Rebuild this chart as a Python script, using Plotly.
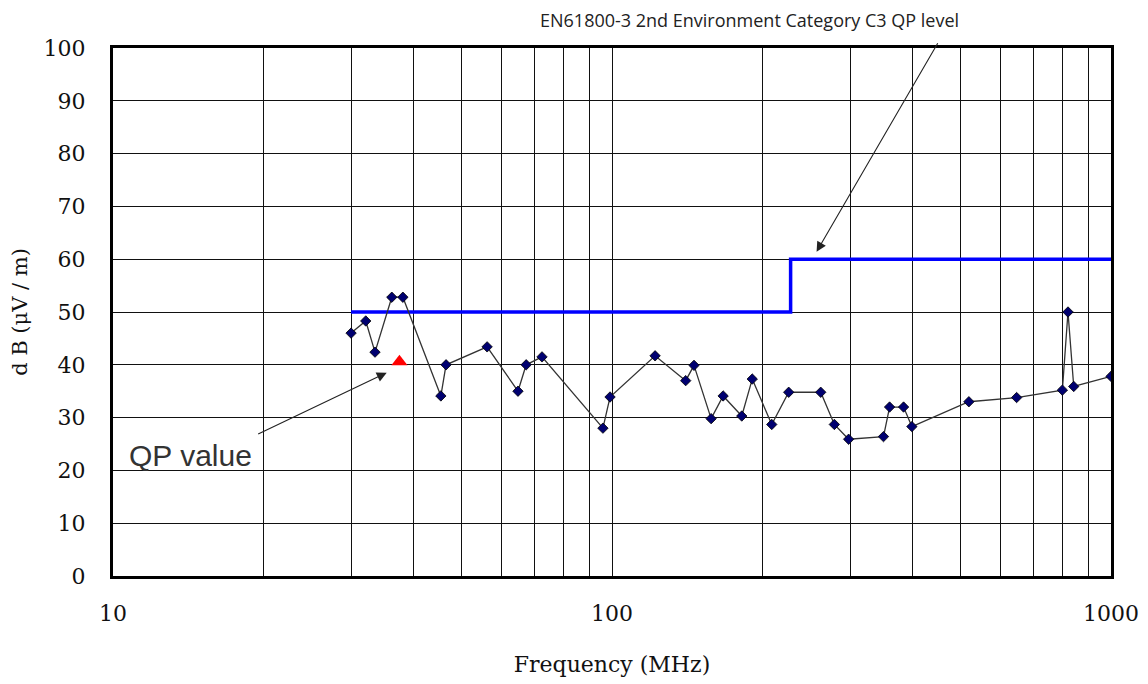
import plotly.graph_objects as go

# Measured emission data (MHz, dB(uV/m))
freq_mhz = [30, 32.1, 33.5, 36.2, 38.1, 45.4, 46.5, 56.2, 64.8, 67.3, 72.4,
            95.9, 99.1, 122, 140.5, 146, 158, 167, 182, 191, 209, 226, 262,
            279, 298, 350, 360, 384, 399, 519, 647, 799, 820, 842, 1000]
level_db = [46.0, 48.3, 42.4, 52.8, 52.8, 34.1, 40.0, 43.4, 35.0, 40.0, 41.5,
            28.0, 33.9, 41.7, 37.0, 39.9, 29.8, 34.1, 30.3, 37.3, 28.7, 34.8, 34.8,
            28.7, 25.9, 26.4, 32.0, 32.0, 28.3, 33.0, 33.8, 35.2, 50.0, 35.9, 37.8]

# Limit line (EN61800-3 C3 QP)
limit_freq = [30, 228, 228, 1000]
limit_db = [50, 50, 60, 60]

# QP value point
qp_freq = [37.5]
qp_db = [40.6]

x_tickvals = [10, 20, 30, 40, 50, 60, 70, 80, 90, 100, 200, 300, 400, 500,
              600, 700, 800, 900, 1000]
x_ticktext = ["10", "", "", "", "", "", "", "", "", "100", "", "", "", "",
              "", "", "", "", "1000"]
y_tickvals = [0, 10, 20, 30, 40, 50, 60, 70, 80, 90, 100]

fig = go.Figure()
fig.add_trace(go.Scatter(x=limit_freq, y=limit_db, mode="lines",
                         line=dict(color="#0000ff", width=3.5),
                         showlegend=False, hoverinfo="skip"))
fig.add_trace(go.Scatter(x=freq_mhz, y=level_db, mode="lines+markers",
                         line=dict(color="#333333", width=1.3),
                         marker=dict(symbol="diamond", size=8, color="#000070",
                                     line=dict(color="#000000", width=0.8)),
                         showlegend=False))
fig.add_trace(go.Scatter(x=qp_freq, y=qp_db, mode="markers",
                         marker=dict(symbol="triangle-up", size=14, color="#ff0000"),
                         showlegend=False))

serif = "DejaVu Serif"

# page has an 8px body margin; plot area spans page pixels x 113..1111, y 48..576
fig.update_layout(
    width=1140, height=676,
    margin=dict(l=105, r=37, t=40, b=108),
    plot_bgcolor="white", paper_bgcolor="white",
    xaxis=dict(type="log", range=[1, 3], tickmode="array",
               tickvals=x_tickvals, ticktext=x_ticktext, automargin=False,
               showgrid=True, gridcolor="#111111", gridwidth=1.2,
               showline=True, linecolor="black", linewidth=3, mirror=True,
               ticks="", ticklabelstandoff=16,
               tickfont=dict(family=serif, size=22, color="#111"),
               title=dict(text="Frequency (MHz)", standoff=32,
                          font=dict(family=serif, size=22, color="#111")),
               zeroline=False),
    yaxis=dict(range=[0, 100], tickmode="array", tickvals=y_tickvals,
               automargin=False,
               showgrid=True, gridcolor="#111111", gridwidth=1.2,
               showline=True, linecolor="black", linewidth=3, mirror=True,
               ticks="", ticklabelstandoff=20,
               tickfont=dict(family=serif, size=22, color="#111"),
               title=dict(text="d B (μV / m)", standoff=12,
                          font=dict(family=serif, size=21, color="#111")),
               zeroline=False),
)

# Arrows
fig.add_annotation(x=2.410, y=61.4, xref="x", yref="y", text="",
                   showarrow=True, arrowhead=2, arrowsize=1.8, arrowwidth=1.1,
                   arrowcolor="#222", ax=122, ay=-210)
fig.add_annotation(x=1.5485, y=38.5, xref="x", yref="y", text="",
                   showarrow=True, arrowhead=2, arrowsize=1.8, arrowwidth=1.1,
                   arrowcolor="#222", ax=-130, ay=62)

PW, PH = 998.0, 528.0
def px(x):
    return (x - 113) / PW
def py(y):
    return (576 - y) / PH

fig.add_annotation(x=px(749), y=py(20), xref="paper", yref="paper",
                   text="EN61800-3 2nd Environment Category C3 QP level",
                   showarrow=False, xanchor="center", yanchor="middle",
                   font=dict(family="Open Sans", size=18, color="#222"))
fig.add_annotation(x=px(190), y=py(455), xref="paper", yref="paper",
                   text="QP value", showarrow=False,
                   xanchor="center", yanchor="middle",
                   font=dict(family="Liberation Sans", size=30, color="#333"))

fig.write_html("out.html")
